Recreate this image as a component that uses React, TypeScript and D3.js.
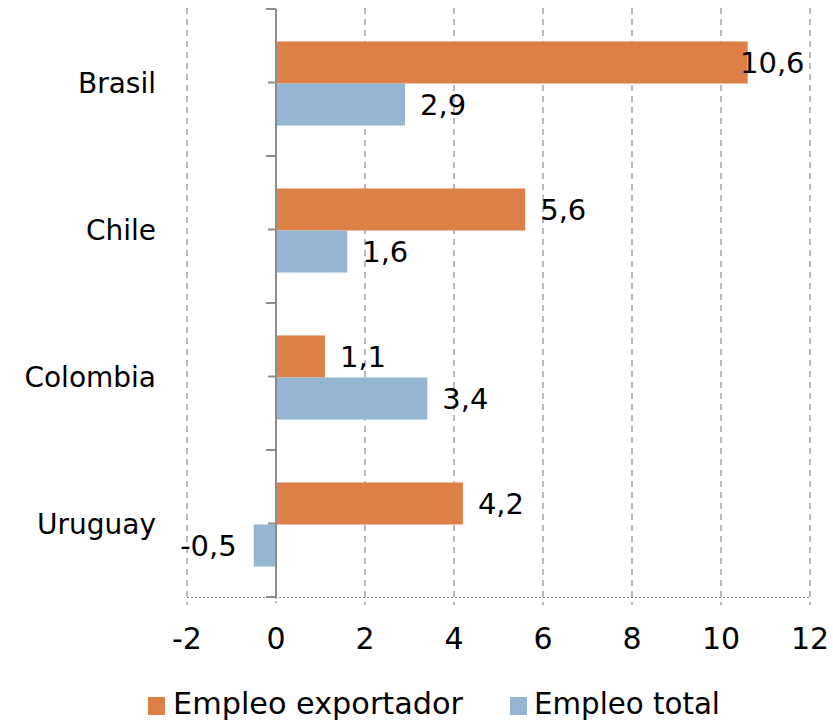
import React from "react";
import * as d3 from "d3";

const categories = ["Brasil", "Chile", "Colombia", "Uruguay"];
const exportador = [10.6, 5.6, 1.1, 4.2];
const total = [2.9, 1.6, 3.4, -0.5];
const xTicks = [-2, 0, 2, 4, 6, 8, 10, 12];
const seriesNames = ["Empleo exportador", "Empleo total"];
const colors = ["#DD8047", "#94B6D2"];

const W = 833;
const H = 724;
const FONT = "'DejaVu Sans', sans-serif";

export default function App() {
  const x = d3.scaleLinear().domain([-2, 12]).range([187, 810]);
  const y = d3.scaleBand().domain(categories).range([9, 597]).paddingInner(0).paddingOuter(0);
  const band = y.bandwidth();
  const barH = band * 0.286;
  const fmt = (v: number) => d3.format(".1f")(v).replace(".", ",").replace("\u2212", "-");
  const x0 = x(0);

  const series = [exportador, total];

  return (
    <svg width={W} height={H} style={{ position: "absolute", left: 0, top: 0 }}>
      <rect width={W} height={H} fill="#fff" />
      {/* gridlines */}
      {xTicks.filter((t) => t !== 0).map((t) => (
        <line key={t} x1={x(t)} x2={x(t)} y1={8} y2={605} stroke="#8c8c8c" strokeWidth={1.2} strokeDasharray="6,5" />
      ))}
      <line x1={x0} x2={x0} y1={597} y2={605} stroke="#8c8c8c" strokeWidth={1.2} strokeDasharray="2,2" />
      {/* bottom dotted axis */}
      <line x1={187} x2={810} y1={597.5} y2={597.5} stroke="#8c8c8c" strokeWidth={1.2} strokeDasharray="2,2" />
      {/* bars */}
      {categories.map((c, i) =>
        series.map((s, k) => {
          const v = s[i];
          const yTop = (y(c) as number) + band / 2 - barH + k * barH + 1;
          return (
            <rect
              key={c + k}
              x={Math.min(x(v), x0)}
              width={Math.abs(x(v) - x0)}
              y={yTop}
              height={barH}
              fill={colors[k]}
            />
          );
        })
      )}
      {/* zero axis */}
      <line x1={x0} x2={x0} y1={9} y2={597} stroke="#8c8c8c" strokeWidth={2} />
      {categories.map((c) => (
        <g key={"t" + c}>
          <line x1={x0 - 10} x2={x0} y1={y(c) as number} y2={y(c) as number} stroke="#8c8c8c" strokeWidth={2} />
          <line x1={x0 - 8} x2={x0} y1={(y(c) as number) + band / 2} y2={(y(c) as number) + band / 2} stroke="#8c8c8c" strokeWidth={2} />
        </g>
      ))}
      <line x1={x0 - 10} x2={x0} y1={597} y2={597} stroke="#8c8c8c" strokeWidth={2} />
      {/* value labels */}
      {categories.map((c, i) =>
        series.map((s, k) => {
          const v = s[i];
          const cy = (y(c) as number) + band / 2 - barH / 2 + k * barH + 1;
          const neg = v < 0;
          const xe = x(v);
          const tx = neg ? xe - 17 : Math.min(xe + 15, 740);
          return (
            <text
              key={"l" + c + k}
              x={tx}
              y={cy}
              dy="0.36em"
              textAnchor={neg ? "end" : "start"}
              fontFamily={FONT}
              fontSize={29}
              fill="#000"
            >
              {fmt(v)}
            </text>
          );
        })
      )}
      {/* category labels */}
      {categories.map((c) => (
        <text key={"c" + c} x={156} y={(y(c) as number) + band / 2} dy="0.36em" textAnchor="end" fontFamily={FONT} fontSize={28} fill="#000">
          {c}
        </text>
      ))}
      {/* x tick labels */}
      {xTicks.map((t) => (
        <text key={"x" + t} x={x(t)} y={649} textAnchor="middle" fontFamily={FONT} fontSize={30} fill="#000">
          {t}
        </text>
      ))}
      {/* legend */}
      <rect x={148} y={697} width={17} height={18} fill={colors[0]} />
      <text x={173} y={714} fontFamily={FONT} fontSize={30} fill="#000" textLength={290} lengthAdjust="spacingAndGlyphs">
        {seriesNames[0]}
      </text>
      <rect x={510} y={697} width={17} height={18} fill={colors[1]} />
      <text x={534} y={714} fontFamily={FONT} fontSize={30} fill="#000" textLength={186} lengthAdjust="spacingAndGlyphs">
        {seriesNames[1]}
      </text>
    </svg>
  );
}
